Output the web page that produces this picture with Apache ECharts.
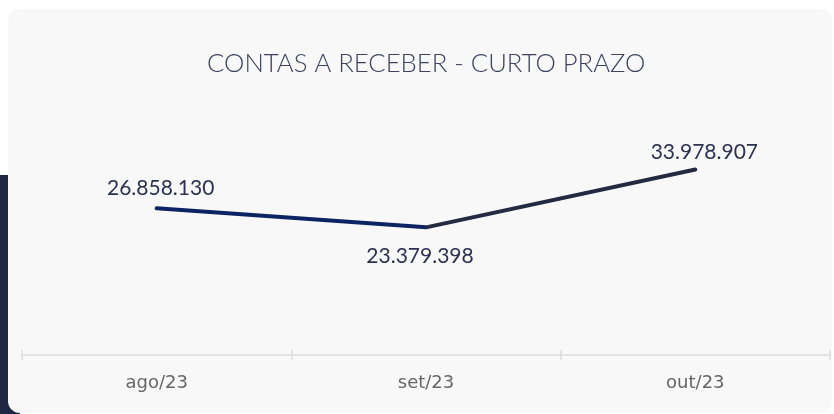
<!DOCTYPE html>
<html>
<head>
<meta charset="utf-8">
<script src="https://cdn.jsdelivr.net/npm/echarts@6/dist/echarts.min.js"></script>
<style>
html,body{margin:0;padding:0;background:#ffffff;}
#c{width:834px;height:414px;}
</style>
</head>
<body>
<div id="c"></div>
<script>
const title = 'CONTAS A RECEBER - CURTO PRAZO';
const categories = ['ago/23', 'set/23', 'out/23'];
const values = [26858130, 23379398, 33978907];
const labelPositions = ['top', 'bottom', 'top'];
const labelOffsets = [[4, 3], [-6, -1], [9, 6]];

function fmt(v){ return String(v).replace(/\B(?=(\d{3})+(?!\d))/g, '.'); }

const chart = echarts.init(document.getElementById('c'));
chart.setOption({
  animation: false,
  graphic: [
    { type: 'rect', z: -10, shape: { x: 0, y: 175, width: 20, height: 239 }, style: { fill: '#1f2641' } },
    { type: 'rect', z: -9, shape: { x: 8, y: 9, width: 824, height: 404, r: 12 }, style: { fill: '#f8f8f8' } }
  ],
  title: {
    text: title,
    left: 202,
    top: 46,
    textStyle: { fontFamily: 'Lato', fontWeight: 300, fontSize: 25.7, color: '#3c4260' }
  },
  grid: { left: 22, right: 4, top: 82, bottom: 59, containLabel: false },
  xAxis: [
    {
      type: 'category', data: categories, boundaryGap: true,
      axisLine: { lineStyle: { color: '#dcdcdc', width: 1.5 } },
      axisTick: { show: true, length: 5, lineStyle: { color: '#dcdcdc', width: 1.5 } },
      axisLabel: { margin: 19, fontFamily: 'DejaVu Sans', fontSize: 18, color: '#666666' }
    },
    {
      type: 'category', data: categories, boundaryGap: true, position: 'bottom',
      axisLine: { show: false },
      axisTick: { show: true, inside: true, length: 5, lineStyle: { color: '#dcdcdc', width: 1.5 } },
      axisLabel: { show: false }
    }
  ],
  yAxis: { type: 'value', min: 0, max: 50000000, show: false },
  series: [{
    type: 'line',
    xAxisIndex: 0,
    data: values.map((v, i) => ({
      value: v,
      label: { position: labelPositions[i], distance: labelPositions[i] === 'top' ? 12 : 18, offset: labelOffsets[i] }
    })),
    symbol: 'circle',
    symbolSize: 2,
    showSymbol: true,
    itemStyle: { color: 'rgba(0,0,0,0)' },
    lineStyle: {
      width: 4, cap: 'round', join: 'round',
      color: { type: 'linear', x: 0, y: 0, x2: 1, y2: 0, colorStops: [
        { offset: 0, color: '#0c2463' }, { offset: 0.5, color: '#0c2463' },
        { offset: 0.5, color: '#242a42' }, { offset: 1, color: '#242a42' } ] }
    },
    label: {
      show: true,
      formatter: p => fmt(p.value),
      fontFamily: 'Lato', fontSize: 21, color: '#2b3150'
    }
  }]
});
</script>
</body>
</html>
